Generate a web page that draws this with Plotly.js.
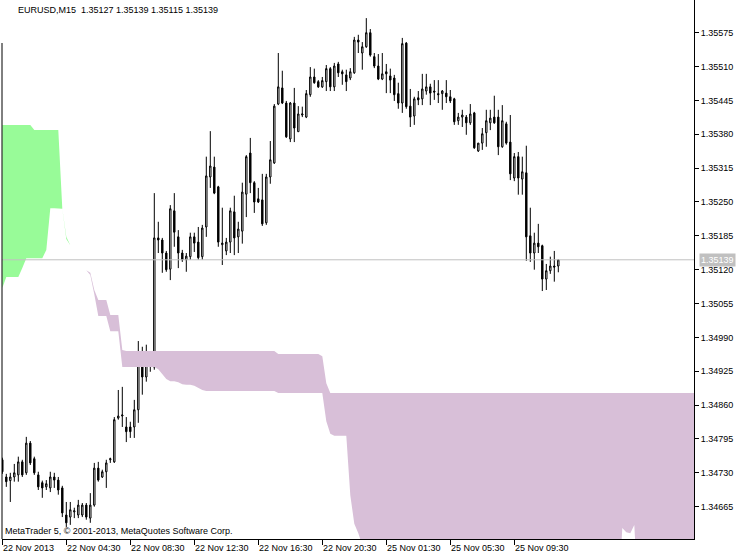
<!DOCTYPE html>
<html>
<head>
<meta charset="utf-8">
<script src="https://cdn.plot.ly/plotly-3.0.1.min.js"></script>
<style>html,body{margin:0;padding:0;background:#fff;}#chart{width:750px;height:560px;}</style>
</head>
<body>
<div id="chart"></div>
<script>
// ---- data (EURUSD M15) ----
const symbolTitle = "EURUSD,M15\u00a0\u00a01.35127 1.35139 1.35115 1.35139";
const copyrightText = "MetaTrader 5, \u00a9 2001-2013, MetaQuotes Software Corp.";
const bidPrice = 1.35139;
const timeLabels = ["22 Nov 2013","22 Nov 04:30","22 Nov 08:30","22 Nov 12:30","22 Nov 16:30","22 Nov 20:30","25 Nov 01:30","25 Nov 05:30","25 Nov 09:30"];
const timeLabelBars = [0,16,32,48,64,80,96,112,128];
const priceTicks = [1.34665,1.34730,1.34795,1.34860,1.34925,1.34990,1.35055,1.35120,1.35185,1.35250,1.35315,1.35380,1.35445,1.35510,1.35575];

const openP = [
1.34755,1.34722,1.34715,1.34722,1.34726,1.34751,1.34730,1.34787,1.34757,1.34726,
1.34711,1.34703,1.34701,1.34722,1.34716,1.34701,1.34649,1.34645,1.34655,1.34649,
1.34649,1.34668,1.34643,1.34668,1.34739,1.34722,1.34732,1.34755,1.34751,1.34835,
1.34839,1.34818,1.34818,1.34818,1.34851,1.34941,1.34914,1.34939,1.34933,1.35181,
1.35177,1.35152,1.35121,1.35233,1.35183,1.35152,1.35139,1.35145,1.35183,1.35173,
1.35145,1.35202,1.35298,1.35317,1.35279,1.35168,1.35156,1.35173,1.35231,1.35183,
1.35194,1.35265,1.35344,1.35287,1.35256,1.35254,1.35210,1.35298,1.35325,1.35438,
1.35469,1.35440,1.35371,1.35440,1.35385,1.35417,1.35413,1.35456,1.35490,1.35481,
1.35471,1.35481,1.35506,1.35471,1.35515,1.35500,1.35494,1.35488,1.35498,1.35561,
1.35536,1.35548,1.35575,1.35529,1.35511,1.35486,1.35500,1.35492,1.35488,1.35458,
1.35440,1.35555,1.35434,1.35415,1.35450,1.35448,1.35463,1.35471,1.35463,1.35458,
1.35458,1.35459,1.35452,1.35448,1.35406,1.35413,1.35413,1.35402,1.35421,1.35348,
1.35363,1.35383,1.35402,1.35413,1.35413,1.35356,1.35400,1.35365,1.35296,1.35337,
1.35294,1.35306,1.35185,1.35152,1.35171,1.35166,1.35102,1.35118,1.35127,1.35127];
const highP = [
1.34759,1.34728,1.34730,1.34747,1.34761,1.34755,1.34799,1.34791,1.34761,1.34732,
1.34715,1.34716,1.34732,1.34730,1.34722,1.34705,1.34674,1.34674,1.34663,1.34678,
1.34672,1.34672,1.34691,1.34749,1.34751,1.34736,1.34755,1.34759,1.34837,1.34889,
1.34895,1.34837,1.34828,1.34870,1.34983,1.34972,1.34976,1.34962,1.35267,1.35212,
1.35181,1.35156,1.35244,1.35267,1.35196,1.35158,1.35152,1.35191,1.35191,1.35202,
1.35206,1.35337,1.35386,1.35337,1.35281,1.35239,1.35181,1.35239,1.35262,1.35212,
1.35287,1.35340,1.35373,1.35290,1.35277,1.35304,1.35304,1.35367,1.35438,1.35536,
1.35502,1.35444,1.35442,1.35469,1.35434,1.35433,1.35465,1.35509,1.35506,1.35484,
1.35490,1.35513,1.35509,1.35517,1.35519,1.35504,1.35504,1.35507,1.35567,1.35571,
1.35557,1.35603,1.35582,1.35536,1.35534,1.35536,1.35515,1.35506,1.35494,1.35479,
1.35565,1.35557,1.35467,1.35452,1.35463,1.35496,1.35496,1.35477,1.35484,1.35484,
1.35465,1.35484,1.35465,1.35450,1.35421,1.35427,1.35417,1.35438,1.35423,1.35363,
1.35392,1.35427,1.35427,1.35454,1.35427,1.35436,1.35404,1.35417,1.35344,1.35346,
1.35337,1.35358,1.35239,1.35191,1.35208,1.35168,1.35131,1.35145,1.35156,1.35139];
const lowP = [
1.34728,1.34703,1.34674,1.34713,1.34713,1.34722,1.34726,1.34745,1.34726,1.34697,
1.34682,1.34697,1.34693,1.34701,1.34688,1.34645,1.34626,1.34630,1.34643,1.34643,
1.34645,1.34640,1.34634,1.34665,1.34713,1.34720,1.34701,1.34749,1.34749,1.34832,
1.34818,1.34789,1.34797,1.34797,1.34826,1.34880,1.34905,1.34924,1.34928,1.35152,
1.35114,1.35116,1.35100,1.35164,1.35123,1.35135,1.35116,1.35139,1.35154,1.35139,
1.35139,1.35183,1.35277,1.35265,1.35164,1.35129,1.35148,1.35152,1.35148,1.35152,
1.35170,1.35221,1.35267,1.35229,1.35248,1.35204,1.35206,1.35285,1.35323,1.35436,
1.35438,1.35373,1.35365,1.35365,1.35385,1.35413,1.35411,1.35452,1.35477,1.35469,
1.35469,1.35463,1.35463,1.35463,1.35490,1.35475,1.35463,1.35484,1.35496,1.35536,
1.35504,1.35546,1.35529,1.35507,1.35484,1.35484,1.35459,1.35459,1.35444,1.35429,
1.35421,1.35429,1.35394,1.35398,1.35436,1.35436,1.35456,1.35436,1.35446,1.35440,
1.35427,1.35440,1.35440,1.35398,1.35398,1.35394,1.35379,1.35398,1.35352,1.35346,
1.35350,1.35356,1.35388,1.35400,1.35340,1.35354,1.35360,1.35292,1.35290,1.35264,
1.35264,1.35137,1.35135,1.35120,1.35152,1.35079,1.35081,1.35112,1.35097,1.35115];
const closeP = [
1.34732,1.34713,1.34722,1.34730,1.34751,1.34726,1.34787,1.34749,1.34730,1.34703,
1.34701,1.34709,1.34722,1.34716,1.34697,1.34653,1.34634,1.34659,1.34657,1.34668,
1.34668,1.34645,1.34668,1.34739,1.34716,1.34732,1.34749,1.34757,1.34832,1.34839,
1.34841,1.34809,1.34809,1.34851,1.34941,1.34914,1.34941,1.34947,1.35181,1.35177,
1.35152,1.35120,1.35237,1.35192,1.35152,1.35139,1.35146,1.35183,1.35171,1.35143,
1.35200,1.35300,1.35319,1.35267,1.35173,1.35171,1.35173,1.35233,1.35181,1.35198,
1.35269,1.35337,1.35287,1.35250,1.35250,1.35208,1.35298,1.35331,1.35434,1.35471,
1.35440,1.35375,1.35440,1.35392,1.35419,1.35419,1.35458,1.35490,1.35479,1.35471,
1.35483,1.35506,1.35471,1.35511,1.35498,1.35496,1.35481,1.35500,1.35561,1.35557,
1.35548,1.35575,1.35532,1.35511,1.35486,1.35496,1.35496,1.35484,1.35456,1.35440,
1.35554,1.35433,1.35413,1.35448,1.35446,1.35467,1.35471,1.35459,1.35461,1.35456,
1.35463,1.35452,1.35444,1.35404,1.35413,1.35417,1.35402,1.35419,1.35354,1.35363,
1.35381,1.35406,1.35411,1.35402,1.35356,1.35406,1.35363,1.35304,1.35337,1.35296,
1.35308,1.35183,1.35152,1.35171,1.35164,1.35102,1.35118,1.35127,1.35125,1.35139];

// Ichimoku Senkou spans (one value per bar position, incl. the forward-shifted part)
const spanA = [
1.35398,1.35398,1.35398,1.35398,1.35398,1.35398,1.35398,1.35398,1.35388,1.35388,
1.35388,1.35388,1.35388,1.35388,1.35388,1.35237,1.35183,1.35167,1.35154,1.35142,
1.35131,1.35119,1.35110,1.35073,1.35031,1.35031,1.35031,1.35002,1.35002,1.35002,
1.34933,1.34933,1.34933,1.34933,1.34933,1.34933,1.34933,1.34933,1.34933,1.34929,
1.34920,1.34910,1.34906,1.34906,1.34904,1.34900,1.34899,1.34899,1.34897,1.34893,
1.34889,1.34887,1.34887,1.34887,1.34887,1.34887,1.34887,1.34887,1.34887,1.34887,
1.34887,1.34887,1.34887,1.34887,1.34887,1.34887,1.34887,1.34887,1.34887,1.34883,
1.34883,1.34883,1.34883,1.34883,1.34883,1.34883,1.34883,1.34883,1.34883,1.34883,
1.34883,1.34829,1.34805,1.34801,1.34801,1.34801,1.34801,1.34687,1.34632,1.34614,
1.34591,1.34486,1.34486,1.34486,1.34486,1.34486,1.34486,1.34486,1.34486,1.34486,
1.34486,1.34486,1.34486,1.34486,1.34486,1.34486,1.34486,1.34486,1.34486,1.34486,
1.34486,1.34486,1.34486,1.34486,1.34486,1.34486,1.34486,1.34486,1.34486,1.34486,
1.34486,1.34486,1.34486,1.34486,1.34486,1.34486,1.34486,1.34486,1.34486,1.34486,
1.34486,1.34486,1.34486,1.34486,1.34486,1.34486,1.34486,1.34486,1.34486,1.34486,
1.34486,1.34486,1.34486,1.34486,1.34486,1.34486,1.34486,1.34486,1.34486,1.34486,
1.34486,1.34486,1.34486,1.34486,1.34486,1.34624,1.34616,1.34614,1.34630,1.34486,
1.34486,1.34486,1.34486,1.34486,1.34486,1.34486,1.34486,1.34486,1.34486,1.34486,
1.34486,1.34486,1.34486,1.34486];
const spanB = [
1.35085,1.35106,1.35106,1.35106,1.35106,1.35123,1.35142,1.35142,1.35142,1.35142,
1.35142,1.35158,1.35238,1.35238,1.35238,1.35237,1.35179,1.35167,1.35154,1.35142,
1.35131,1.35119,1.35114,1.35081,1.35062,1.35062,1.35062,1.35033,1.35033,1.35033,
1.34966,1.34964,1.34964,1.34964,1.34964,1.34964,1.34964,1.34964,1.34964,1.34964,
1.34964,1.34964,1.34964,1.34964,1.34964,1.34964,1.34964,1.34964,1.34964,1.34964,
1.34964,1.34964,1.34964,1.34964,1.34964,1.34964,1.34964,1.34964,1.34964,1.34964,
1.34964,1.34964,1.34964,1.34964,1.34964,1.34964,1.34964,1.34964,1.34964,1.34958,
1.34958,1.34958,1.34958,1.34958,1.34958,1.34958,1.34958,1.34958,1.34958,1.34958,
1.34954,1.34902,1.34883,1.34883,1.34883,1.34883,1.34883,1.34883,1.34883,1.34883,
1.34883,1.34883,1.34883,1.34883,1.34883,1.34883,1.34883,1.34883,1.34883,1.34883,
1.34883,1.34883,1.34883,1.34883,1.34883,1.34883,1.34883,1.34883,1.34883,1.34883,
1.34883,1.34883,1.34883,1.34883,1.34883,1.34883,1.34883,1.34883,1.34883,1.34883,
1.34883,1.34883,1.34883,1.34883,1.34883,1.34883,1.34883,1.34883,1.34883,1.34883,
1.34883,1.34883,1.34883,1.34883,1.34883,1.34883,1.34883,1.34883,1.34883,1.34883,
1.34883,1.34883,1.34883,1.34883,1.34883,1.34883,1.34883,1.34883,1.34883,1.34883,
1.34883,1.34883,1.34883,1.34883,1.34883,1.34883,1.34883,1.34883,1.34883,1.34883,
1.34883,1.34883,1.34883,1.34883,1.34883,1.34883,1.34883,1.34883,1.34883,1.34883,
1.34883,1.34883,1.34883,1.34883];

// ---- build Kumo polygons (green: A above B, thistle: B above A) ----
function kumoPolys(A, B) {
  const polys = []; let cur = null, anchor = null;
  for (let i = 0; i < A.length; i++) {
    const d = A[i] - B[i];
    const s = d > 1e-9 ? 1 : (d < -1e-9 ? -1 : 0);
    if (cur && s !== 0 && s !== cur.s) {
      const dp = A[i-1] - B[i-1]; const t = dp / (dp - d);
      const x = i - 1 + t, y = A[i-1] + t * (A[i] - A[i-1]);
      cur.up.push([x, y]); cur.lo.push([x, y]); polys.push(cur);
      cur = {s: s, up: [[x, y]], lo: [[x, y]]};
    }
    if (s === 0) {
      if (cur) { cur.up.push([i, A[i]]); cur.lo.push([i, B[i]]); polys.push(cur); cur = null; }
      anchor = [i, A[i]];
    } else {
      if (!cur) {
        cur = {s: s, up: [], lo: []};
        if (anchor && anchor[0] === i - 1) { cur.up.push(anchor); cur.lo.push(anchor); }
      }
      cur.up.push([i, A[i]]); cur.lo.push([i, B[i]]);
    }
  }
  if (cur) polys.push(cur);
  return polys;
}
const polys = kumoPolys(spanA, spanB);
function polyXY(sign) {
  const xs = [], ys = [];
  polys.filter(p => p.s === sign).forEach(p => {
    const pts = p.up.concat(p.lo.slice().reverse());
    pts.forEach(q => { xs.push(q[0]); ys.push(q[1]); });
    xs.push(null); ys.push(null);
  });
  return {xs, ys};
}
const g = polyXY(1), pu = polyXY(-1);
const barIdx = closeP.map((_, i) => i);

const FONT = 'Liberation Sans, Arial, sans-serif';
const traces = [
  {type: 'scatter', mode: 'lines', x: g.xs, y: g.ys, fill: 'toself', fillcolor: '#98FB98',
   line: {width: 0, color: '#98FB98'}, hoverinfo: 'skip', showlegend: false},
  {type: 'scatter', mode: 'lines', x: pu.xs, y: pu.ys, fill: 'toself', fillcolor: '#D8BFD8',
   line: {width: 0, color: '#D8BFD8'}, hoverinfo: 'skip', showlegend: false},
  {type: 'candlestick', x: barIdx, open: openP, high: highP, low: lowP, close: closeP,
   increasing: {line: {color: '#000', width: 1}, fillcolor: '#FFFFFF'},
   decreasing: {line: {color: '#000', width: 1}, fillcolor: '#000000'},
   whiskerwidth: 0, hoverinfo: 'skip', showlegend: false}
];

const annotations = timeLabels.map((t, k) => ({
  xref: 'x', yref: 'paper', x: timeLabelBars[k], y: 0, xanchor: 'left', yanchor: 'top',
  xshift: -1, yshift: -2, text: t, showarrow: false, font: {family: FONT, size: 9, color: '#000'}
}));
annotations.push({xref: 'paper', yref: 'paper', x: 0, y: 1, xanchor: 'left', yanchor: 'top',
  xshift: 14, yshift: -3, text: symbolTitle, showarrow: false, font: {family: FONT, size: 9, color: '#000'}});
annotations.push({xref: 'paper', yref: 'paper', x: 0, y: 0, xanchor: 'left', yanchor: 'bottom',
  xshift: 1, yshift: 1, text: copyrightText, showarrow: false, font: {family: FONT, size: 9, color: '#000'}});
annotations.push({xref: 'paper', yref: 'y', x: 1, y: bidPrice, xanchor: 'left', yanchor: 'middle',
  xshift: 5, text: bidPrice.toFixed(5), showarrow: false, bgcolor: '#C0C0C0', borderpad: 1,
  font: {family: FONT, size: 9, color: '#FFFFFF'}});

const layout = {
  width: 750, height: 560,
  margin: {l: 2, r: 56, t: 0, b: 21, pad: 0},
  paper_bgcolor: '#FFFFFF', plot_bgcolor: '#FFFFFF',
  showlegend: false, boxgap: 0.5,
  xaxis: {range: [-0.075, 172.925], showgrid: false, zeroline: false, showline: true,
    linecolor: '#000', linewidth: 1, ticks: 'outside', ticklen: 5, tickcolor: '#000', tickwidth: 1,
    tickvals: timeLabelBars, ticktext: timeLabelBars.map(() => ''), showticklabels: false,
    rangeslider: {visible: false}, fixedrange: true},
  yaxis: {side: 'right', range: [1.346029, 1.356378], showgrid: false, zeroline: false,
    showline: true, linecolor: '#000', linewidth: 1, ticks: 'outside', ticklen: 4, tickcolor: '#000',
    tickvals: priceTicks, tickformat: '.5f', tickfont: {family: FONT, size: 9, color: '#000'}, fixedrange: true},
  shapes: [
    {type: 'line', xref: 'paper', yref: 'y', x0: 0, x1: 1, y0: bidPrice, y1: bidPrice,
     line: {color: '#C0C0C0', width: 1}, layer: 'above'},
    {type: 'line', xref: 'paper', yref: 'paper', x0: 0, x1: 0, y0: 0, y1: 1 - 43/539,
     line: {color: '#000', width: 1}, layer: 'above'}
  ],
  annotations: annotations
};
Plotly.newPlot('chart', traces, layout, {staticPlot: true, displayModeBar: false});
</script>
</body>
</html>
